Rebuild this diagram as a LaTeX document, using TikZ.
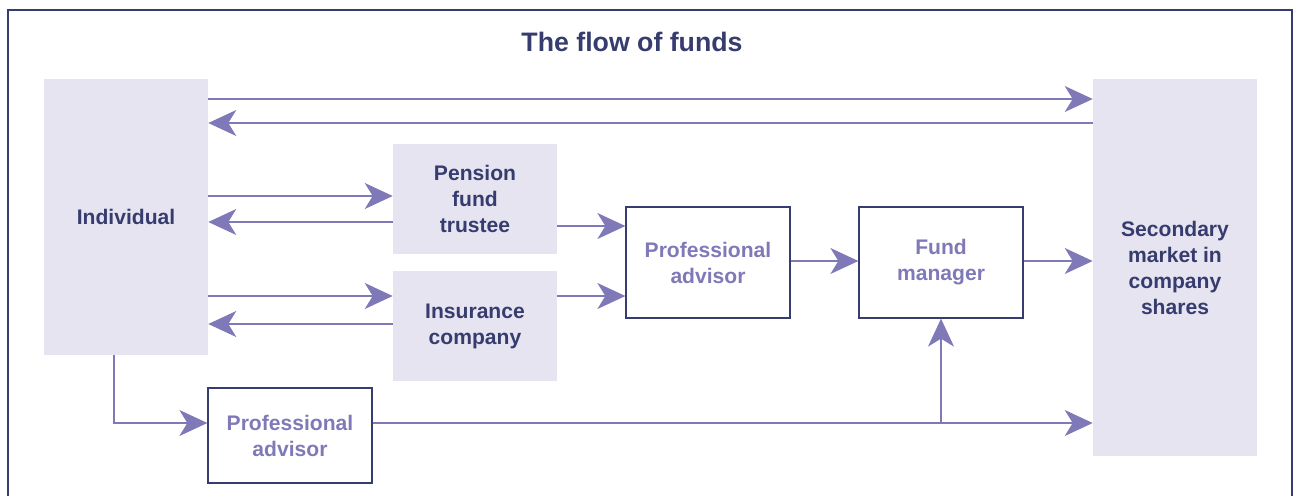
\documentclass[tikz,border=0pt]{standalone}
\usepackage{fontspec}
\setmainfont{Liberation Sans}
\usetikzlibrary{arrows.meta}
\definecolor{navy}{HTML}{363C6E}
\definecolor{lilac}{HTML}{E6E4F1}
\definecolor{purp}{HTML}{8079B8}

\begin{document}
\begin{tikzpicture}[x=0.25mm, y=-0.25mm,
    tintbox/.style = {fill=lilac, minimum width=41mm, inner sep=0pt, align=center,
      text=navy, font=\bfseries\fontsize{15}{18.5}\selectfont},
    linebox/.style = {draw=navy, line width=0.9pt, fill=white, minimum width=41mm,
      inner sep=0pt, align=center, text=purp, font=\bfseries\fontsize{15}{18.5}\selectfont},
    flow/.style = {draw=purp, line width=0.9pt, -{Stealth[length=7mm, width=6.5mm, inset=2mm]}}]
  \useasboundingbox (0,0) rectangle (1299,496);
  \draw[navy, line width=1pt] (8,496) -- (8,10) -- (1292,10) -- (1292,496);
  \node[text=navy, font=\bfseries\fontsize{19}{23}\selectfont] (title) at (632,42) {The flow of funds};
  % boxes
  \node[tintbox, minimum height=69mm] (ind) at (126,217) {Individual};
  \node[tintbox, minimum height=94.25mm] (sec) at (1175,267.5) {Secondary\\market in\\company\\shares};
  \node[tintbox, minimum height=27.5mm] (pen) at (475,199) {Pension\\fund\\trustee};
  \node[tintbox, minimum height=27.5mm] (ins) at (475,326) {Insurance\\company};
  \node[linebox, minimum height=27.75mm] (pa1) at (708,262.5) {Professional\\advisor};
  \node[linebox, minimum height=27.75mm] (fm) at (941,262.5) {Fund\\manager};
  \node[linebox, minimum height=23.75mm] (pa2) at (290,435.5) {Professional\\advisor};
  % flows
  \draw[flow] (ind.east |- 0,99) -- (sec.west |- 0,99);
  \draw[flow] (sec.west |- 0,123) -- (ind.east |- 0,123);
  \draw[flow] (ind.east |- 0,196) -- (pen.west |- 0,196);
  \draw[flow] (pen.west |- 0,222) -- (ind.east |- 0,222);
  \draw[flow] (ind.east |- 0,296) -- (ins.west |- 0,296);
  \draw[flow] (ins.west |- 0,324) -- (ind.east |- 0,324);
  \draw[flow] (pen.east |- 0,226) -- (pa1.west |- 0,226);
  \draw[flow] (ins.east |- 0,296) -- (pa1.west |- 0,296);
  \draw[flow] (pa1.east |- 0,261) -- (fm.west |- 0,261);
  \draw[flow] (fm.east |- 0,261) -- (sec.west |- 0,261);
  \draw[flow] (ind.south -| 114,0) |- (pa2.west |- 0,423);
  \coordinate (split) at (fm.south |- 0,423);
  \draw[flow] (pa2.east |- 0,423) -- (sec.west |- 0,423);
  \draw[flow] (split) -- (fm.south);
\end{tikzpicture}
\end{document}
